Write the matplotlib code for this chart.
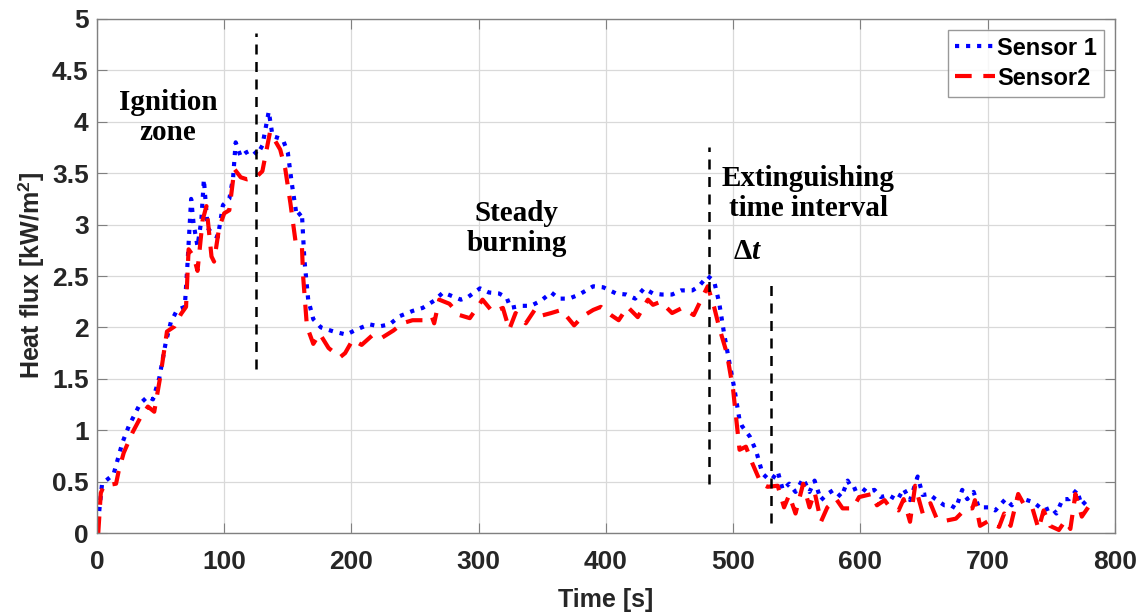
import matplotlib.pyplot as plt
import numpy as np

# Sensor 1 (blue, dotted)
t1 = [0, 4, 13, 20, 25, 34, 40, 44, 49, 54, 58, 63, 69, 71, 74, 76, 79, 82, 84, 87,
      91, 95, 99, 104, 107, 109, 113, 117, 122, 126, 130, 135, 138, 146, 150, 153, 157,
      161, 163, 166, 170, 176, 186, 196, 204, 214, 222, 230, 238, 248, 256, 265, 272,
      278, 286, 291, 301, 308, 316, 322, 325, 333, 341, 349, 357, 363, 371, 379, 390,
      398, 408, 416, 423, 430, 437, 444, 452, 459, 468, 473, 480, 485, 489, 493, 497,
      501, 505, 507, 513, 518, 523, 528, 531, 535, 539, 544, 549, 555, 560, 564, 569,
      574, 579, 585, 590, 594, 600, 605, 611, 616, 622, 629, 634, 639, 645, 649, 654,
      659, 666, 671, 675, 680, 684, 689, 693, 701, 706, 714, 719, 724, 731, 736, 744,
      750, 754, 759, 764, 770, 774, 779]
s1 = [0, 0.48, 0.57, 0.88, 1.04, 1.26, 1.33, 1.30, 1.51, 1.85, 2.05, 2.17, 2.20, 2.59,
      3.25, 3.00, 2.79, 3.04, 3.44, 2.97, 2.90, 2.88, 3.19, 3.25, 3.46, 3.80, 3.66, 3.70,
      3.73, 3.68, 3.77, 4.10, 3.86, 3.83, 3.70, 3.41, 3.08, 3.12, 2.66, 2.27, 2.08, 2.00,
      1.96, 1.93, 1.98, 2.03, 2.01, 2.03, 2.11, 2.16, 2.19, 2.26, 2.34, 2.31, 2.27, 2.29,
      2.38, 2.34, 2.33, 2.29, 2.19, 2.21, 2.21, 2.26, 2.34, 2.28, 2.28, 2.32, 2.40, 2.39,
      2.33, 2.32, 2.28, 2.38, 2.33, 2.32, 2.32, 2.36, 2.36, 2.40, 2.50, 2.45, 2.24, 1.93,
      1.66, 1.40, 1.10, 1.04, 0.94, 0.80, 0.58, 0.52, 0.53, 0.60, 0.42, 0.48, 0.40, 0.53,
      0.40, 0.51, 0.32, 0.38, 0.42, 0.35, 0.51, 0.42, 0.45, 0.40, 0.42, 0.35, 0.37, 0.32,
      0.43, 0.32, 0.55, 0.37, 0.38, 0.33, 0.27, 0.27, 0.24, 0.42, 0.33, 0.40, 0.25, 0.25,
      0.22, 0.33, 0.27, 0.35, 0.32, 0.30, 0.22, 0.25, 0.19, 0.33, 0.33, 0.42, 0.27, 0.33]

# Sensor 2 (red, dashed)
t2 = [1, 3, 5.5, 15, 17, 21, 28, 34, 40, 45, 50, 55, 61, 66, 70, 72, 76, 79, 83, 86,
      90, 92, 96, 100, 104, 108, 113, 118, 125, 130, 136, 144, 148, 152, 156, 161, 162,
      165, 170, 175, 182, 191, 195, 201, 208, 217, 224, 233, 240, 248, 256, 263, 265,
      269, 277, 285, 293, 303, 311, 319, 324, 329, 337, 344, 348, 357, 365, 375, 382,
      390, 396, 404, 410, 417, 425, 433, 437, 443, 452, 460, 469, 476, 480, 485, 489,
      495, 500, 505, 510, 515, 522, 527, 535, 540, 544, 549, 555, 560, 564, 569, 574,
      581, 586, 594, 599, 609, 613, 619, 622, 630, 634, 639, 643, 649, 655, 660, 667,
      675, 683, 688, 690, 694, 701, 709, 713, 718, 724, 728, 735, 740, 744, 749, 756,
      761, 765, 769, 774, 779]
s2 = [0, 0.39, 0.46, 0.48, 0.60, 0.78, 0.98, 1.12, 1.23, 1.18, 1.54, 1.96, 2.01, 2.13,
      2.20, 2.76, 2.69, 2.55, 3.04, 3.18, 2.69, 2.64, 2.97, 3.11, 3.14, 3.54, 3.46, 3.44,
      3.46, 3.52, 3.90, 3.73, 3.54, 3.21, 2.84, 2.81, 2.50, 2.01, 1.84, 1.94, 1.80, 1.71,
      1.75, 1.88, 1.83, 1.93, 1.90, 1.97, 2.04, 2.07, 2.07, 2.11, 2.04, 2.27, 2.23, 2.12,
      2.09, 2.27, 2.15, 2.19, 1.98, 2.14, 2.04, 2.17, 2.11, 2.14, 2.17, 2.02, 2.11, 2.17,
      2.20, 2.12, 2.07, 2.20, 2.10, 2.27, 2.22, 2.25, 2.14, 2.19, 2.12, 2.30, 2.40, 2.20,
      2.00, 1.75, 1.39, 0.81, 0.84, 0.68, 0.48, 0.45, 0.46, 0.25, 0.37, 0.19, 0.48, 0.25,
      0.40, 0.11, 0.25, 0.33, 0.24, 0.24, 0.35, 0.38, 0.27, 0.32, 0.27, 0.22, 0.33, 0.11,
      0.46, 0.19, 0.29, 0.14, 0.12, 0.14, 0.24, 0.24, 0.32, 0.07, 0.12, 0.06, 0.19, 0.07,
      0.38, 0.29, 0.25, 0.04, 0.22, 0.07, 0.03, 0.12, 0.04, 0.38, 0.16, 0.25]

# phase boundaries (x, y_bottom, y_top)
vline_x = [125, 481, 530]
vline_lo = [1.6, 0.48, 0.1]
vline_hi = [4.86, 3.75, 2.44]

plt.rcParams['font.family'] = 'Liberation Sans'
plt.rcParams['mathtext.fontset'] = 'custom'
plt.rcParams['mathtext.rm'] = 'Liberation Serif:bold'
plt.rcParams['mathtext.it'] = 'Liberation Serif:bold:italic'
plt.rcParams['mathtext.sf'] = 'Liberation Sans:bold'

fig = plt.figure(figsize=(11.45, 6.12), dpi=100)
ax = fig.add_axes([0.0847, 0.129, 0.889, 0.840])

ax.plot(t1, s1, color='blue', linestyle=':', linewidth=3, label='Sensor 1')
ax.plot(t2, s2, color='red', linestyle=(0, (4, 2.8)), linewidth=3, label='Sensor2')

for x, lo, hi in zip(vline_x, vline_lo, vline_hi):
    ax.plot([x, x], [lo, hi], color='black', linestyle=(0, (4, 3)), linewidth=1.8)

ax.set_xlim(0, 800)
ax.set_ylim(0, 5)
ax.set_xticks(np.arange(0, 801, 100))
ax.set_yticks(np.arange(0, 5.01, 0.5))
ax.set_yticklabels(['0', '0.5', '1', '1.5', '2', '2.5', '3', '3.5', '4', '4.5', '5'])

ax.grid(True, color='#d9d9d9', linewidth=0.9)
ax.set_axisbelow(True)
for sp in ax.spines.values():
    sp.set_color('#808080')
    sp.set_linewidth(1.0)
ax.tick_params(direction='in', top=True, right=True, length=7, color='#808080',
               labelsize=19, labelcolor='#262626')
ax.tick_params(axis='x', pad=12)
ax.tick_params(axis='y', pad=6)
for lbl in ax.get_xticklabels() + ax.get_yticklabels():
    lbl.set_fontweight('bold')

ax.set_xlabel('Time [s]', fontsize=18, fontweight='bold', color='#262626', labelpad=10)
ax.set_ylabel(r'Heat flux [kW/m$^{\mathsf{2}}$]', fontsize=18, fontweight='bold',
              color='#262626', labelpad=4)

# phase annotations
serif = dict(family='Liberation Serif', fontweight='bold', fontsize=21, color='black')
ax.text(56, 4.04, 'Ignition\nzone', ha='center', va='center', linespacing=1.15, **serif)
ax.text(330, 2.96, 'Steady\nburning', ha='center', va='center', linespacing=1.15, **serif)
ax.text(559, 3.3, 'Extinguishing\ntime interval', ha='center', va='center', linespacing=1.15, **serif)
ax.text(511, 2.74, r'$\Delta t$', ha='center', va='center', fontsize=21, color='black')

leg = ax.legend(loc='upper right', fontsize=17, frameon=True, fancybox=False,
                handlelength=1.7, handletextpad=0.1, borderaxespad=0.45,
                borderpad=0.3, labelspacing=0.3)
leg.get_frame().set_edgecolor('#808080')
leg.get_frame().set_linewidth(1.0)
for txt in leg.get_texts():
    txt.set_fontweight('bold')

fig.savefig('out.png', dpi=100)
